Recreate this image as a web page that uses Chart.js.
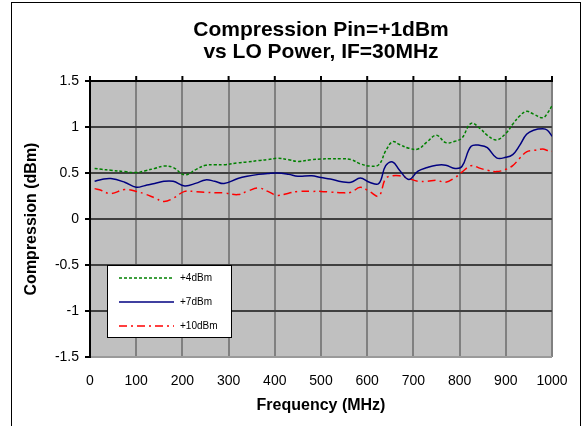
<!DOCTYPE html>
<html>
<head>
<meta charset="utf-8">
<script src="https://cdn.jsdelivr.net/npm/chart.js@4.4.0/dist/chart.umd.min.js"></script>
<style>
html,body{margin:0;padding:0;background:#fff;}
#wrap{width:584px;height:426px;}
</style>
</head>
<body>
<div id="wrap"><canvas id="c" width="584" height="426"></canvas></div>
<script>
const TITLE = ['Compression Pin=+1dBm', 'vs LO Power, IF=30MHz'];
const X_TITLE = 'Frequency (MHz)';
const Y_TITLE = 'Compression (dBm)';
const SERIES_NAMES = ['+4dBm', '+7dBm', '+10dBm'];

const freqMHz = [10, 25, 45, 75, 100, 120, 140, 160, 180, 205, 230, 250, 270, 290, 320, 340, 365, 385, 405, 430, 450, 480, 500, 520, 545, 565, 585, 605, 625, 640, 655, 670, 690, 710, 730, 750, 770, 790, 805, 825, 845, 860, 880, 900, 915, 930, 945, 960, 980, 990, 1000];

const lo4dBm = [0.55, 0.54, 0.53, 0.515, 0.505, 0.525, 0.55, 0.575, 0.56, 0.48, 0.54, 0.585, 0.59, 0.59, 0.61, 0.62, 0.635, 0.645, 0.66, 0.645, 0.625, 0.645, 0.652, 0.655, 0.655, 0.645, 0.60, 0.575, 0.59, 0.74, 0.84, 0.81, 0.77, 0.76, 0.84, 0.91, 0.83, 0.845, 0.88, 1.04, 0.98, 0.91, 0.86, 0.93, 1.03, 1.12, 1.17, 1.14, 1.10, 1.15, 1.23];

const lo7dBm = [0.41, 0.43, 0.44, 0.40, 0.345, 0.365, 0.385, 0.41, 0.41, 0.36, 0.39, 0.425, 0.41, 0.385, 0.44, 0.465, 0.485, 0.495, 0.50, 0.485, 0.465, 0.47, 0.45, 0.435, 0.405, 0.40, 0.445, 0.40, 0.385, 0.58, 0.62, 0.53, 0.43, 0.52, 0.56, 0.585, 0.585, 0.55, 0.57, 0.79, 0.80, 0.775, 0.665, 0.67, 0.70, 0.80, 0.92, 0.965, 0.98, 0.965, 0.90];

const lo10dBm = [0.33, 0.31, 0.275, 0.32, 0.30, 0.27, 0.23, 0.19, 0.225, 0.30, 0.295, 0.29, 0.285, 0.283, 0.265, 0.30, 0.337, 0.30, 0.257, 0.28, 0.30, 0.30, 0.30, 0.293, 0.285, 0.29, 0.344, 0.30, 0.25, 0.44, 0.47, 0.47, 0.44, 0.41, 0.41, 0.42, 0.40, 0.45, 0.51, 0.58, 0.55, 0.53, 0.515, 0.54, 0.58, 0.66, 0.73, 0.745, 0.76, 0.745, 0.735];

const xTicks = [0, 100, 200, 300, 400, 500, 600, 700, 800, 900, 1000];
const yTicks = [-1.5, -1, -0.5, 0, 0.5, 1, 1.5];

const FONT = "'Liberation Sans', Arial, sans-serif";

function pts(vals) { return freqMHz.map((f, i) => ({x: f, y: vals[i]})); }

const decor = {
  id: 'decor',
  beforeDraw(chart) {
    const {ctx, chartArea: a} = chart;
    ctx.save();
    ctx.fillStyle = '#fff';
    ctx.fillRect(0, 0, chart.width, chart.height);
    ctx.strokeStyle = '#000';
    ctx.lineWidth = 1;
    ctx.strokeRect(11.5, 2.5, 569, 440);
    ctx.fillStyle = '#C0C0C0';
    ctx.fillRect(a.left, a.top, a.right - a.left, a.bottom - a.top);
    // title centred over the plot area
    ctx.fillStyle = '#000';
    ctx.font = 'bold 21px ' + FONT;
    ctx.textAlign = 'center';
    ctx.textBaseline = 'middle';
    const cx = (a.left + a.right) / 2;
    ctx.fillText(TITLE[0], cx, 30);
    ctx.fillText(TITLE[1], cx, 52);
    ctx.restore();
  },
  afterDatasetsDraw(chart) {
    const {ctx, chartArea: a, scales} = chart;
    ctx.save();
    ctx.strokeStyle = '#000';
    ctx.lineWidth = 2;
    ctx.beginPath();
    ctx.moveTo(a.left - 1, a.top);
    ctx.lineTo(a.right + 1, a.top);
    ctx.stroke();
    xTicks.forEach(v => {
      const x = scales.x.getPixelForValue(v);
      ctx.beginPath();
      ctx.moveTo(x, a.top);
      ctx.lineTo(x, a.top - 5);
      ctx.stroke();
    });
    const lx = 107, ly = 265, lw = 124, lh = 72;
    ctx.fillStyle = '#fff';
    ctx.fillRect(lx, ly, lw, lh);
    ctx.lineWidth = 1;
    ctx.strokeStyle = '#000';
    ctx.strokeRect(lx + 0.5, ly + 0.5, lw, lh);
    chart.data.datasets.forEach((ds, i) => {
      const y = ly + 13 + i * 24;
      ctx.strokeStyle = ds.borderColor;
      ctx.lineWidth = ds.borderWidth;
      ctx.setLineDash(ds.borderDash || []);
      ctx.beginPath();
      ctx.moveTo(lx + 12, y);
      ctx.lineTo(lx + 67, y);
      ctx.stroke();
      ctx.setLineDash([]);
      ctx.fillStyle = '#000';
      ctx.font = '10px ' + FONT;
      ctx.textBaseline = 'middle';
      ctx.textAlign = 'left';
      ctx.fillText(ds.label, lx + 73, y);
    });
    ctx.restore();
  }
};

new Chart(document.getElementById('c'), {
  type: 'line',
  data: {
    datasets: [
      {label: SERIES_NAMES[0], data: pts(lo4dBm), borderColor: '#008000', borderWidth: 1.5, borderDash: [3, 2], pointRadius: 0, tension: 0.4, fill: false},
      {label: SERIES_NAMES[1], data: pts(lo7dBm), borderColor: '#000080', borderWidth: 1.5, pointRadius: 0, tension: 0.4, fill: false},
      {label: SERIES_NAMES[2], data: pts(lo10dBm), borderColor: '#FF0000', borderWidth: 1.5, borderDash: [8, 4, 2, 4], pointRadius: 0, tension: 0.4, fill: false}
    ]
  },
  options: {
    responsive: false,
    animation: false,
    devicePixelRatio: 1,
    layout: {padding: {left: 12, right: 32, top: 81, bottom: 0}},
    plugins: {
      legend: {display: false},
      tooltip: {enabled: false},
      title: {display: false}
    },
    scales: {
      x: {
        type: 'linear',
        min: 0, max: 1000,
        afterBuildTicks(s) { s.ticks = xTicks.map(v => ({value: v})); },
        afterFit(s) { s.height = 69; },
        ticks: {color: '#000', font: {family: FONT, size: 14}, padding: 16, maxRotation: 0, callback: v => String(v)},
        grid: {color: '#808080', lineWidth: 2, drawTicks: false},
        border: {display: false},
        title: {display: true, text: X_TITLE, color: '#000', font: {family: FONT, size: 16, weight: 'bold'}, padding: {top: 0, bottom: 11}}
      },
      y: {
        min: -1.5, max: 1.5,
        afterBuildTicks(s) { s.ticks = yTicks.map(v => ({value: v})); },
        afterFit(s) { s.width = 78; },
        ticks: {color: '#000', font: {family: FONT, size: 14}, padding: 6, callback: v => String(v)},
        grid: {
          color: c => (c.tick && c.tick.value === -1.5) ? '#9a9a9a' : '#404040',
          lineWidth: 2, tickLength: 5, tickColor: '#000', tickWidth: 2
        },
        border: {display: true, color: '#000', width: 2},
        title: {display: true, text: Y_TITLE, color: '#000', font: {family: FONT, size: 16, weight: 'bold'}, padding: {top: 10, bottom: 0}}
      }
    }
  },
  plugins: [decor]
});
</script>
</body>
</html>
